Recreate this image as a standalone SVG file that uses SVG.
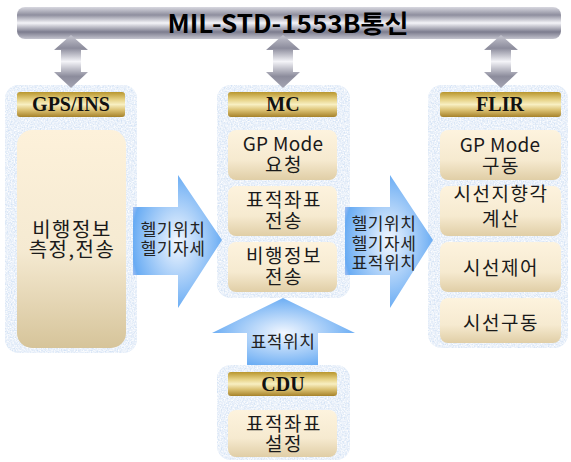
<svg xmlns="http://www.w3.org/2000/svg" width="571" height="462" viewBox="0 0 571 462">
<defs>
<linearGradient id="bar" x1="0" y1="0" x2="0" y2="1">
<stop offset="0" stop-color="#d8d8e0"/>
<stop offset="0.25" stop-color="#8e8e9e"/>
<stop offset="0.5" stop-color="#f4f4f8"/>
<stop offset="0.78" stop-color="#7c7c8e"/>
<stop offset="1" stop-color="#c4c4ce"/>
</linearGradient>
<linearGradient id="dbl" x1="0" y1="0" x2="0" y2="1">
<stop offset="0" stop-color="#c4c4ce"/>
<stop offset="0.25" stop-color="#8c8c9c"/>
<stop offset="0.5" stop-color="#f4f4f8"/>
<stop offset="0.78" stop-color="#8c8c9c"/>
<stop offset="1" stop-color="#a4a4b2"/>
</linearGradient>
<linearGradient id="gold" x1="0" y1="0" x2="0" y2="1">
<stop offset="0" stop-color="#b8962e"/>
<stop offset="0.3" stop-color="#e6d184"/>
<stop offset="0.5" stop-color="#f8efc2"/>
<stop offset="0.72" stop-color="#dcc274"/>
<stop offset="1" stop-color="#a6822a"/>
</linearGradient>
<linearGradient id="cream" x1="0" y1="0" x2="0" y2="1">
<stop offset="0" stop-color="#fdf3de"/>
<stop offset="0.6" stop-color="#f6ead0"/>
<stop offset="1" stop-color="#e0cea6"/>
</linearGradient>
<linearGradient id="creamTall" x1="0" y1="0" x2="0" y2="1">
<stop offset="0" stop-color="#fdf1da"/>
<stop offset="0.55" stop-color="#f5ead2"/>
<stop offset="1" stop-color="#d6c49a"/>
</linearGradient>
<radialGradient id="blue" cx="0.5" cy="0.5" r="0.6">
<stop offset="0" stop-color="#f2f7ff"/>
<stop offset="0.45" stop-color="#a6cdf8"/>
<stop offset="0.85" stop-color="#62a8f3"/>
<stop offset="1" stop-color="#cbc8f0"/>
</radialGradient>
<filter id="tex" x="0" y="0" width="1" height="1">
<feTurbulence type="fractalNoise" baseFrequency="0.7" numOctaves="2" seed="3" result="n"/>
<feColorMatrix in="n" type="matrix" values="0 0 0 0 1  0 0 0 0 1  0 0 0 0 1  0 0 0 -1.6 1.3" result="w"/>
<feComposite in="w" in2="SourceGraphic" operator="in" result="m"/>
<feMerge><feMergeNode in="SourceGraphic"/><feMergeNode in="m"/></feMerge>
</filter>
</defs>
<style>
.panel{fill:#d3e2f5;filter:url(#tex)}
.hdr{fill:url(#gold)}
.box{fill:url(#cream)}
.ht{font-family:"Liberation Serif",serif;font-weight:bold;font-size:20px;fill:#111;text-anchor:middle}
.kt{font-family:"Noto Sans CJK KR","Noto Sans",sans-serif;font-size:19px;letter-spacing:1.5px;fill:#1a1a1a;text-anchor:middle}
.lat{letter-spacing:0.3px}
.at{font-family:"Noto Sans CJK KR","Noto Sans",sans-serif;font-size:17px;letter-spacing:0.5px;fill:#222;text-anchor:middle}
.blue{fill:url(#blue);opacity:0.95}
.dbl{fill:url(#dbl)}
</style>

<g id="bus">
<rect x="17" y="7" width="544" height="32" rx="8" fill="url(#bar)"/>
<text x="288" y="33" font-family="'Noto Sans CJK KR','Noto Sans',sans-serif" font-weight="bold" font-size="25" fill="#000" text-anchor="middle" textLength="241" lengthAdjust="spacingAndGlyphs">MIL-STD-1553B통신</text>
</g>

<g id="gps">
<rect class="panel" x="5" y="85" width="132" height="268" rx="14"/>
<rect class="hdr" x="17" y="92" width="108" height="25" rx="3"/>
<text class="ht" x="71" y="111">GPS/INS</text>
<rect x="17" y="130" width="109" height="218" rx="15" fill="url(#creamTall)"/>
<text class="kt" style="font-size:20px;letter-spacing:1.5px"><tspan x="72" y="237">비행정보</tspan><tspan x="72" y="257">측정,전송</tspan></text>
</g>

<g id="mc">
<rect class="panel" x="217" y="85" width="133" height="213" rx="14"/>
<rect class="hdr" x="228" y="92" width="109" height="25" rx="3"/>
<text class="ht" x="283" y="111">MC</text>
<rect class="box" x="228" y="130" width="109" height="50" rx="8"/>
<text class="kt"><tspan class="lat" x="283" y="151">GP Mode</tspan><tspan x="284" y="172">요청</tspan></text>
<rect class="box" x="228" y="186" width="109" height="50" rx="8"/>
<text class="kt"><tspan x="284" y="207">표적좌표</tspan><tspan x="284" y="228">전송</tspan></text>
<rect class="box" x="228" y="242" width="109" height="50" rx="8"/>
<text class="kt"><tspan x="284" y="263">비행정보</tspan><tspan x="284" y="284">전송</tspan></text>
</g>

<g id="flir">
<rect class="panel" x="428" y="85" width="140" height="263" rx="14"/>
<rect class="hdr" x="440" y="92" width="121" height="25" rx="3"/>
<text class="ht" x="500" y="111">FLIR</text>
<rect class="box" x="440" y="130" width="121" height="50" rx="8"/>
<text class="kt"><tspan class="lat" x="500" y="152">GP Mode</tspan><tspan x="501" y="173">구동</tspan></text>
<rect class="box" x="440" y="186" width="121" height="50" rx="8"/>
<text class="kt"><tspan x="501" y="201">시선지향각</tspan><tspan x="501" y="226">계산</tspan></text>
<rect class="box" x="440" y="242" width="121" height="50" rx="8"/>
<text class="kt" x="501" y="275">시선제어</text>
<rect class="box" x="440" y="298" width="121" height="45" rx="8"/>
<text class="kt" x="501" y="330">시선구동</text>
</g>

<g id="connectors">
<path class="dbl" d="M71,35 L88,50 H81 V72 H88 L71,88 L54,72 H61 V50 H54 Z"/>
<path class="dbl" d="M283,35 L300,50 H293 V72 H300 L283,88 L266,72 H273 V50 H266 Z"/>
<path class="dbl" d="M501,35 L518,50 H511 V72 H518 L501,88 L484,72 H491 V50 H484 Z"/>
<path class="blue" d="M133,207 H178 V175 L222,240 L178,308 V275 H133 Z"/>
<text class="at"><tspan x="173" y="236">헬기위치</tspan><tspan x="173" y="255">헬기자세</tspan></text>
<path class="blue" d="M345,207 H390 V175 L433,240 L390,308 V275 H345 Z"/>
<text class="at"><tspan x="384" y="230">헬기위치</tspan><tspan x="384" y="250">헬기자세</tspan><tspan x="384" y="269">표적위치</tspan></text>
<path class="blue" d="M247,368 V333 H212 L283,298 L355,333 H318 V368 Z"/>
<text class="at" x="283" y="348">표적위치</text>
</g>

<g id="cdu">
<rect class="panel" x="217" y="365" width="133" height="95" rx="14"/>
<rect class="hdr" x="228" y="372" width="109" height="24" rx="3"/>
<text class="ht" x="283" y="391">CDU</text>
<rect class="box" x="228" y="410" width="109" height="47" rx="8"/>
<text class="kt"><tspan x="284" y="431">표적좌표</tspan><tspan x="284" y="451">설정</tspan></text>
</g>
</svg>
